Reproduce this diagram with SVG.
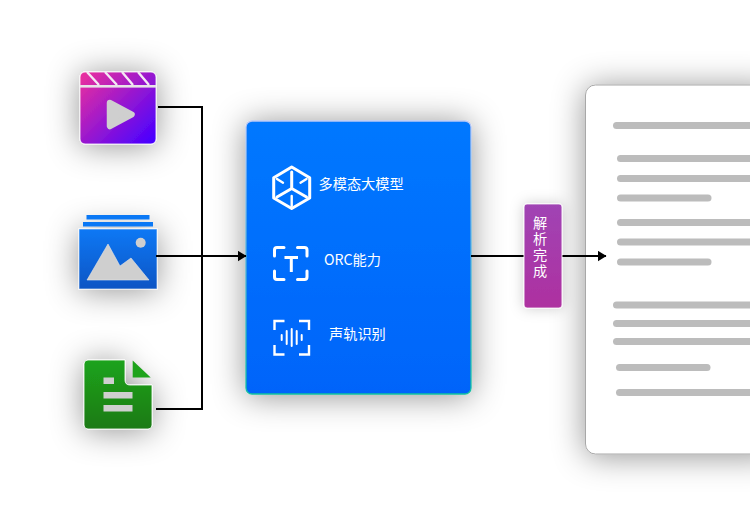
<svg xmlns="http://www.w3.org/2000/svg" width="750" height="526" viewBox="0 0 750 526">
<defs>
<linearGradient id="gv" gradientUnits="userSpaceOnUse" x1="84" y1="76" x2="150" y2="142"><stop offset="0" stop-color="#e62fa0"/><stop offset="1" stop-color="#4a00ff"/></linearGradient>
<linearGradient id="gi" x1="0" y1="0" x2="0" y2="1"><stop offset="0" stop-color="#0a78f5"/><stop offset="1" stop-color="#0a55c4"/></linearGradient>
<linearGradient id="gd" x1="0" y1="0" x2="0" y2="1"><stop offset="0" stop-color="#1ea31b"/><stop offset="1" stop-color="#1d7a16"/></linearGradient>
<linearGradient id="gb" x1="0" y1="0" x2="0" y2="1"><stop offset="0" stop-color="#0578ff"/><stop offset="1" stop-color="#0064fa"/></linearGradient>
<linearGradient id="gbs" x1="0" y1="0" x2="0" y2="1"><stop offset="0" stop-color="#b9c8f5"/><stop offset=".5" stop-color="#4fb0d8"/><stop offset="1" stop-color="#14c0a0"/></linearGradient>
<linearGradient id="gp" x1="0" y1="0" x2="0" y2="1"><stop offset="0" stop-color="#a044b4"/><stop offset="1" stop-color="#ae30a0"/></linearGradient>
<filter id="sh" x="-80%" y="-80%" width="260%" height="260%"><feDropShadow dx="0" dy="2" stdDeviation="16" flood-color="#000" flood-opacity="0.42"/></filter>
<filter id="shs" x="-70%" y="-70%" width="240%" height="240%"><feDropShadow dx="0" dy="0" stdDeviation="7" flood-color="#000" flood-opacity="0.2"/></filter>
<marker id="arr" markerUnits="userSpaceOnUse" markerWidth="9" markerHeight="11" refX="8.500" refY="5.500" orient="auto"><path d="M0 0L9 5.500L0 11Z" fill="#000"/></marker>
</defs>
<style>
.ln{fill:none;stroke:#000;stroke-width:2}
.bar{fill:#bcbcbc}
.t{font-family:"Noto Sans CJK SC","Liberation Sans",sans-serif;font-size:14.200px;fill:#fff}
.ic{fill:none;stroke:#fff;stroke-width:3;stroke-linecap:round;stroke-linejoin:round}
.wl{stroke:#f4e8f4;fill:none}
</style>
<rect width="750" height="526" fill="#fff"/>
<g id="video-icon">
<rect x="80" y="72" width="76" height="72" rx="5" fill="url(#gv)" stroke="#fff" stroke-opacity=".8" filter="url(#sh)"/>
<rect x="80" y="85" width="76" height="2.600" fill="#e8e2e8"/>
<path class="wl" stroke-width="2.400" d="M87 72L99 85M105 72L117 85M122 72L133 85M138 72L149 85"/>
<path d="M110 103L131.500 114.500L110 126Z" fill="#cfcfcf" stroke="#cfcfcf" stroke-width="6.500" stroke-linejoin="round"/>
</g>
<g id="image-icon">
<rect x="79" y="229" width="78" height="60" fill="url(#gi)" stroke="#fff" stroke-opacity=".6" filter="url(#sh)"/>
<rect x="83" y="222" width="70" height="4.500" fill="#0a78f5"/>
<rect x="86.500" y="215" width="63" height="4.500" fill="#0a78f5"/>
<circle cx="140.700" cy="242.700" r="5" fill="#cfcfcf"/>
<path d="M87 280L108 244L120 266L131 258L149 280Z" fill="#cfcfcf" stroke="#e6e6e6" stroke-width=".6"/>
</g>
<g id="doc-icon">
<path d="M88 360H125V380Q125 385 130 385H152V425Q152 429 148 429H88Q84 429 84 425V364Q84 360 88 360Z" fill="url(#gd)" stroke="#fff" stroke-opacity=".8" filter="url(#sh)"/>
<path d="M132.700 360.500L150.700 377.500H132.700Z" fill="#1ea31b"/>
<rect x="103.500" y="377.500" width="10.500" height="6.500" fill="#cfcfcf"/>
<rect x="103.500" y="392" width="29" height="6.500" fill="#cfcfcf"/>
<rect x="103.500" y="405" width="29" height="6.500" fill="#cfcfcf"/>
</g>
<g id="model-box">
<rect x="246" y="121" width="225" height="273" rx="6" fill="url(#gb)" stroke="url(#gbs)" stroke-width="1.300" filter="url(#sh)"/>
<g id="cube-icon" class="ic">
<path d="M291.700 167L309.700 177.700V198L291.700 208.500L273.700 198V177.700Z"/>
<path d="M291.700 188.500L277 197M291.700 188.500L306.500 197M291.700 188.500V172"/>
<path d="M277 179L283 182.700M306.500 179L300.500 182.700M291.700 196V206" stroke-width="2.400"/>
</g>
<text class="t" x="318.500" y="189">多模态大模型</text>
<g id="ocr-icon" class="ic">
<path d="M274.500 256V250Q274.500 247.500 277 247.500H284M297.500 247.500H304.500Q307 247.500 307 250V256M274.500 271V277Q274.500 279.500 277 279.500H284M297.500 279.500H304.500Q307 279.500 307 277V271"/>
<path d="M284.500 257.500H298M291.300 257.500V272" stroke-linecap="butt"/>
</g>
<text class="t" x="324" y="265">ORC能力</text>
<g id="audio-icon" class="ic">
<path stroke-width="2.400" stroke-linecap="butt" stroke-linejoin="miter" d="M274.500 330V321H284.500M299 321H309V330M274.500 345V354.500H284.500M299 354.500H309V345"/>
<path stroke-width="2" d="M281.700 335V340M286.700 331V344M291.700 329V346M296.700 331V344M301.700 335V340"/>
</g>
<text class="t" x="329" y="339">声轨识别</text>
</g>
<g id="document">
<rect x="585.500" y="85" width="190" height="369" rx="10" fill="#fff" stroke="#a8a8a8" filter="url(#sh)"/>
<rect class="bar" x="613" y="122" width="150" height="7" rx="3.500"/>
<rect class="bar" x="617" y="155" width="150" height="7" rx="3.500"/>
<rect class="bar" x="617" y="175" width="150" height="7" rx="3.500"/>
<rect class="bar" x="617" y="194.500" width="94.500" height="7" rx="3.500"/>
<rect class="bar" x="617" y="219" width="150" height="7" rx="3.500"/>
<rect class="bar" x="617" y="238.500" width="150" height="7" rx="3.500"/>
<rect class="bar" x="617" y="258.500" width="94.500" height="7" rx="3.500"/>
<rect class="bar" x="613" y="301.500" width="150" height="7" rx="3.500"/>
<rect class="bar" x="613" y="320" width="150" height="7" rx="3.500"/>
<rect class="bar" x="613" y="338" width="150" height="7" rx="3.500"/>
<rect class="bar" x="616" y="364" width="94.500" height="7" rx="3.500"/>
<rect class="bar" x="616" y="389" width="150" height="7" rx="3.500"/>
</g>
<g id="connectors">
<path class="ln" d="M158 107H202V409H156"/>
<path class="ln" d="M156 256H246" marker-end="url(#arr)"/>
<path class="ln" d="M471 256H606" marker-end="url(#arr)"/>
</g>
<g id="status-pill">
<rect x="524" y="204" width="38" height="104" rx="3" fill="url(#gp)" stroke="#fff" stroke-opacity=".75" stroke-width="1.200" filter="url(#shs)"/>
<text class="t" x="540" y="216" style="writing-mode:vertical-rl;letter-spacing:1.500px">解析完成</text>
</g>
</svg>
